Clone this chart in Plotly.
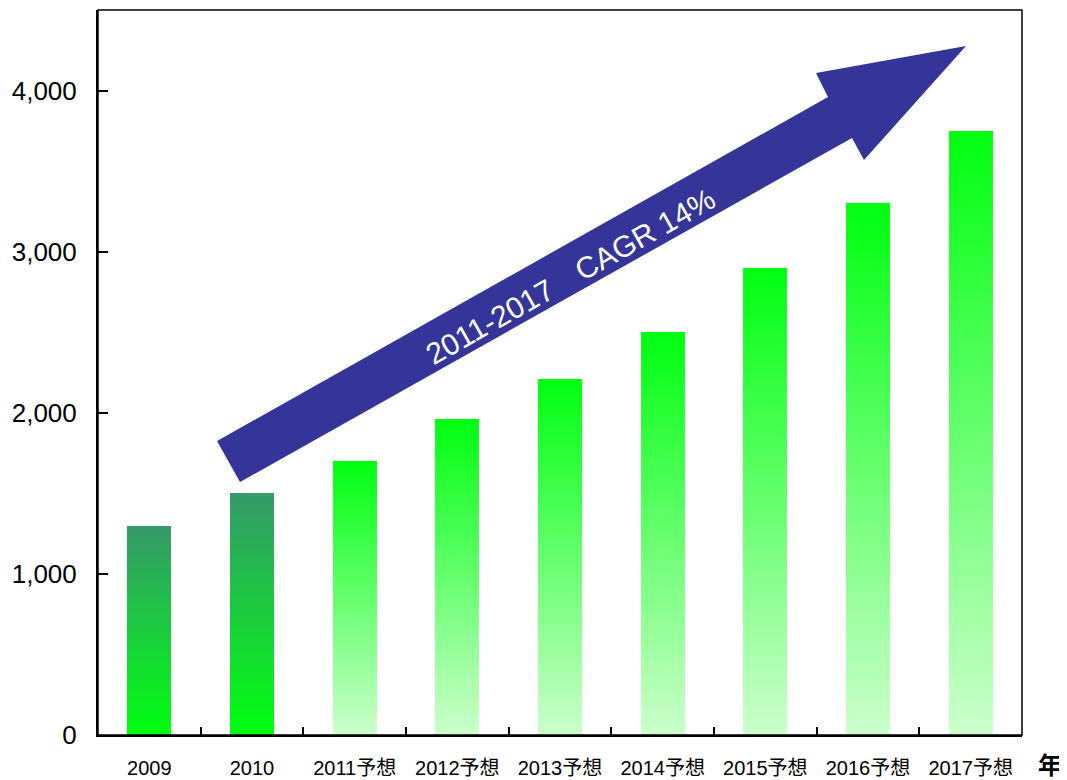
import plotly.graph_objects as go

# ---- data ----
categories = ["2009", "2010", "2011予想", "2012予想", "2013予想", "2014予想",
              "2015予想", "2016予想", "2017予想"]
values = [1300, 1500, 1700, 1960, 2210, 2500, 2900, 3300, 3750]
is_forecast = [False, False, True, True, True, True, True, True, True]
y_ticks = [0, 1000, 2000, 3000, 4000]
arrow_label = "2011-2017\u3000CAGR 14%"
x_title = "年"

# gradient colours (top, bottom)
actual_top, actual_bottom = (54, 153, 106), (0, 255, 16)
fc_top, fc_bottom = (0, 255, 16), (204, 255, 204)

FONT = "Liberation Sans Narrow, Liberation Sans, Noto Sans CJK JP, sans-serif"

OFF = 8  # page body margin
W, H = 1067 - OFF, 780 - OFF
L, R, T, B = 98 - OFF, 45, 10 - OFF, 45
PW, PH = W - L - R, H - T - B


def mix(c1, c2, t):
    return "rgb(%d,%d,%d)" % tuple(round(a + (b - a) * t) for a, b in zip(c1, c2))


fig = go.Figure()
N = 90
for k in range(N):
    t = (k + 0.5) / N  # 0 bottom -> 1 top
    cols = []
    for f in is_forecast:
        if f:
            cols.append(mix(fc_bottom, fc_top, t))
        else:
            cols.append(mix(actual_bottom, actual_top, t))
    fig.add_trace(go.Bar(
        x=categories,
        y=[v / N for v in values],
        base=[v * k / N for v in values],
        width=0.43,
        marker=dict(color=cols, line=dict(width=0)),
        showlegend=False,
        hoverinfo="skip",
    ))


def px2paper(px, py):
    # window pixel -> paper coords
    return (px - OFF - L) / PW, (OFF + H - B - py) / PH


pts = [(217, 441), (828, 97), (816, 73), (966, 46), (864, 160), (852, 138), (240, 482)]
pp = [px2paper(x, y) for x, y in pts]
path = "M " + " L ".join("%.5f,%.5f" % p for p in pp) + " Z"
fig.add_shape(type="path", path=path, xref="paper", yref="paper",
              fillcolor="#343499", line=dict(width=0), layer="above")

tx, ty = px2paper(570, 276)
fig.add_annotation(x=tx, y=ty, xref="paper", yref="paper", text=arrow_label,
                   showarrow=False, textangle=-29.4,
                   font=dict(family=FONT, size=30, color="white"),
                   xanchor="center", yanchor="middle")

ax, ay = px2paper(1050, 763)
fig.add_annotation(x=ax, y=ay, xref="paper", yref="paper", text="<b>" + x_title + "</b>",
                   showarrow=False, font=dict(family="Noto Sans CJK JP", size=24, color="black"),
                   xanchor="center", yanchor="middle")

# frame
fig.add_shape(type="rect", xref="paper", yref="paper", x0=0, y0=0, x1=1, y1=1,
              line=dict(color="black", width=1.5), layer="above")

fig.update_layout(
    width=W, height=H,
    margin=dict(l=L, r=R, t=T, b=B, autoexpand=False),
    barmode="overlay",
    bargap=0,
    plot_bgcolor="white",
    paper_bgcolor="white",
    font=dict(family=FONT, color="black"),
)
fig.update_xaxes(
    type="category", automargin=False, tickangle=0,
    showline=True, linecolor="black", linewidth=2,
    ticks="inside", tickson="boundaries", ticklen=8, tickwidth=1.5, tickcolor="black",
    showgrid=False, zeroline=False,
    tickfont=dict(family=FONT, size=20, color="black"),
    ticklabelstandoff=14,
)
fig.update_yaxes(
    range=[0, 4500], automargin=False,
    tickvals=y_ticks, tickformat=",",
    showline=True, linecolor="black", linewidth=2,
    ticks="inside", ticklen=10, tickwidth=1.5, tickcolor="black",
    showgrid=False, zeroline=False,
    tickfont=dict(family=FONT, size=26, color="black"),
    ticklabelstandoff=14,
)

fig.write_html("out.html")
